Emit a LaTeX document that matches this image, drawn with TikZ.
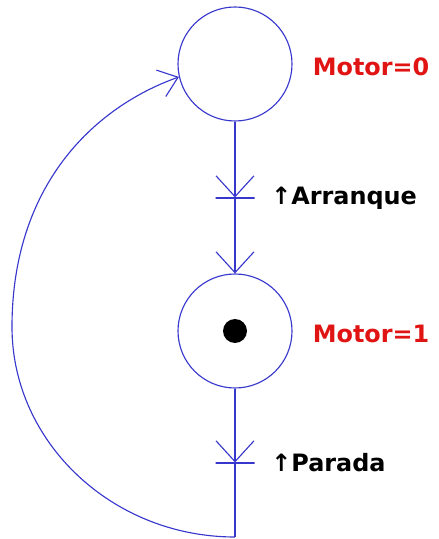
\documentclass[tikz,border=0pt]{standalone}
\usepackage{fontspec}
\setmainfont{DejaVu Sans}
\usepackage{tikz}
\usetikzlibrary{positioning, arrows.meta}
\definecolor{grafblue}{RGB}{55,55,205}
\definecolor{grafred}{RGB}{225,20,20}
\tikzset{
  etapa/.style={
    draw=grafblue, circle, line width=0.8pt,
    minimum size=2.85cm, inner sep=0pt
  },
  transicion/.style={
    draw=grafblue, line width=0.8pt,
    minimum width=0.975cm, minimum height=0pt, inner sep=0pt
  },
  accion/.style={
    font=\fontsize{17}{20}\selectfont\bfseries,
    text=grafred, inner sep=0pt
  },
  receptividad/.style={
    font=\fontsize{17}{20}\selectfont\bfseries,
    inner sep=0pt
  },
  arco/.style={draw=grafblue, line width=0.8pt},
  flecha/.style={arco, -{Straight Barb[length=5.2mm, width=9.5mm]}},
}

\begin{document}
\begin{tikzpicture}
  \useasboundingbox (0,0) rectangle (10.975,13.475);

  \node[etapa] (e0) at (5.875,11.875) {};
  \node[etapa] (e1) at (5.875,5.2)    {};
  \node[circle, fill=black, minimum size=0.6cm, inner sep=0pt]
               (marca) at (e1) {};

  \node[transicion] (t1) at (5.875,8.525) {};
  \node[transicion] (t2) at (5.875,1.9)   {};
  \coordinate (fondo) at (5.875,0.05);

  \node[accion, right=0.5cm of e0, yshift=-2pt] (m0) {Motor=0};
  \node[accion, right=0.5cm of e1, yshift=-2pt] (m1) {Motor=1};
  \node[receptividad, right=0.4cm of t1] (r1) {↑Arranque};
  \node[receptividad, right=0.4cm of t2] (r2) {↑Parada};

  \draw[flecha] (e0) -- (t1);
  \draw[flecha] (t1) -- (e1);
  \draw[flecha] (e1) -- (t2);
  \draw[arco]   (t2) -- (fondo);

  % retorno a la etapa inicial
  \draw[arco, -{Straight Barb[length=4.5mm, width=7mm]}]
    (fondo) .. controls (2.8,0.05) and (0.3,2.425) .. (0.3,5.3)
            .. controls (0.3,8.8) and (2.3,10.775) .. (e0.193);
\end{tikzpicture}
\end{document}
